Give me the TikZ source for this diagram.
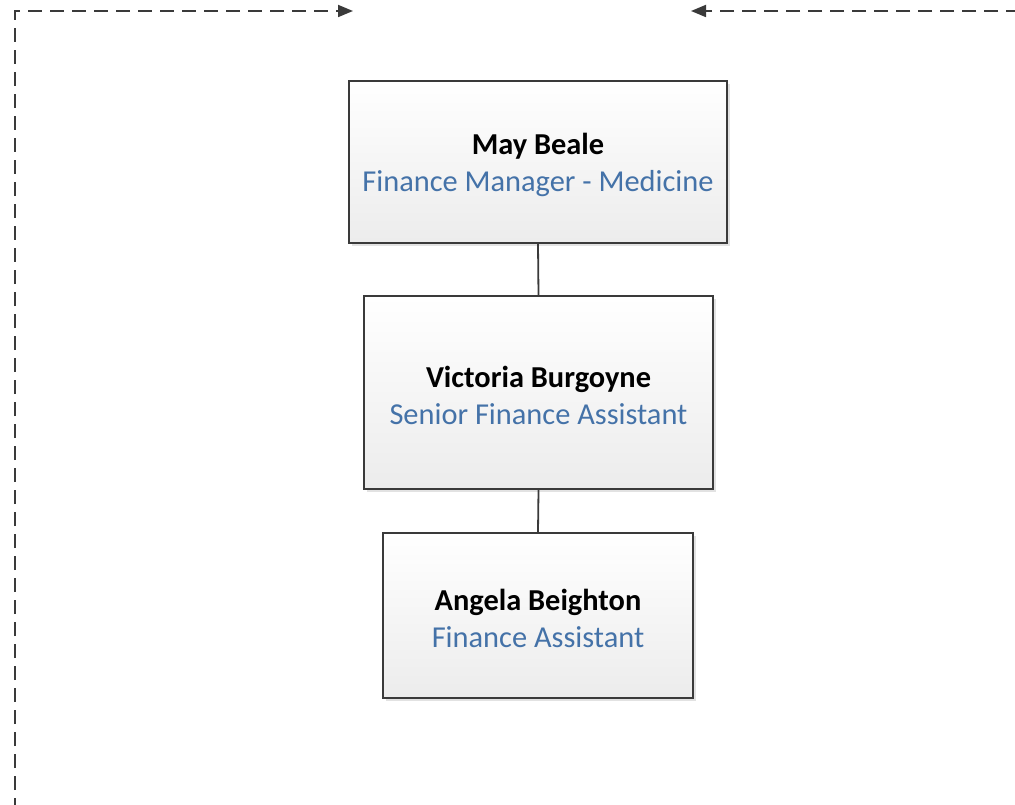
\documentclass[tikz,border=0pt]{standalone}
\usepackage{fontspec}
\setmainfont{Carlito}
\usetikzlibrary{arrows.meta,shadows}
\definecolor{titleblue}{HTML}{4472A8}
\definecolor{linegray}{HTML}{3A3A3A}
\tikzset{
  person/.style={draw=linegray, line width=1.7pt, top color=white, bottom color=gray!15,
    drop shadow={shadow xshift=3pt, shadow yshift=-3pt, fill=gray!50, opacity=.45},
    inner sep=0pt},
  persontext/.style={align=center, inner sep=0pt, yshift=-3pt, font=\fontsize{30.4}{37}\selectfont},
  link/.style={draw=linegray, line width=1.8pt},
  flow/.style={draw=linegray, line width=1.8pt, dash pattern=on 14pt off 8pt,
    -{Triangle[length=15pt,width=12pt]}}
}
\begin{document}
\begin{tikzpicture}[x=1pt,y=-1pt]
\useasboundingbox (0,0) rectangle (1015,805);
\node[person, minimum width=378pt, minimum height=162pt,
  label={[persontext]center:\textbf{May Beale}\\\textcolor{titleblue}{Finance Manager - Medicine}}] (may) at (538,162) {};
\node[person, minimum width=349pt, minimum height=193pt,
  label={[persontext]center:\textbf{Victoria Burgoyne}\\\textcolor{titleblue}{Senior Finance Assistant}}] (vic) at (538.5,392.5) {};
\node[person, minimum width=310pt, minimum height=165pt,
  label={[persontext]center:\textbf{Angela Beighton}\\\textcolor{titleblue}{Finance Assistant}}] (ang) at (538,615.5) {};
\draw[link] (may.south) -- (vic.north);
\draw[link] (vic.south) -- (ang.north);
\coordinate (lbot) at (15,812);
\coordinate (lcorner) at (15,11);
\coordinate (ltip) at (353,11);
\coordinate (rstart) at (1020,11);
\coordinate (rtip) at (691,11);
\draw[flow] (lbot) -- (lcorner) -- (ltip);
\draw[flow] (rstart) -- (rtip);
\end{tikzpicture}
\end{document}
